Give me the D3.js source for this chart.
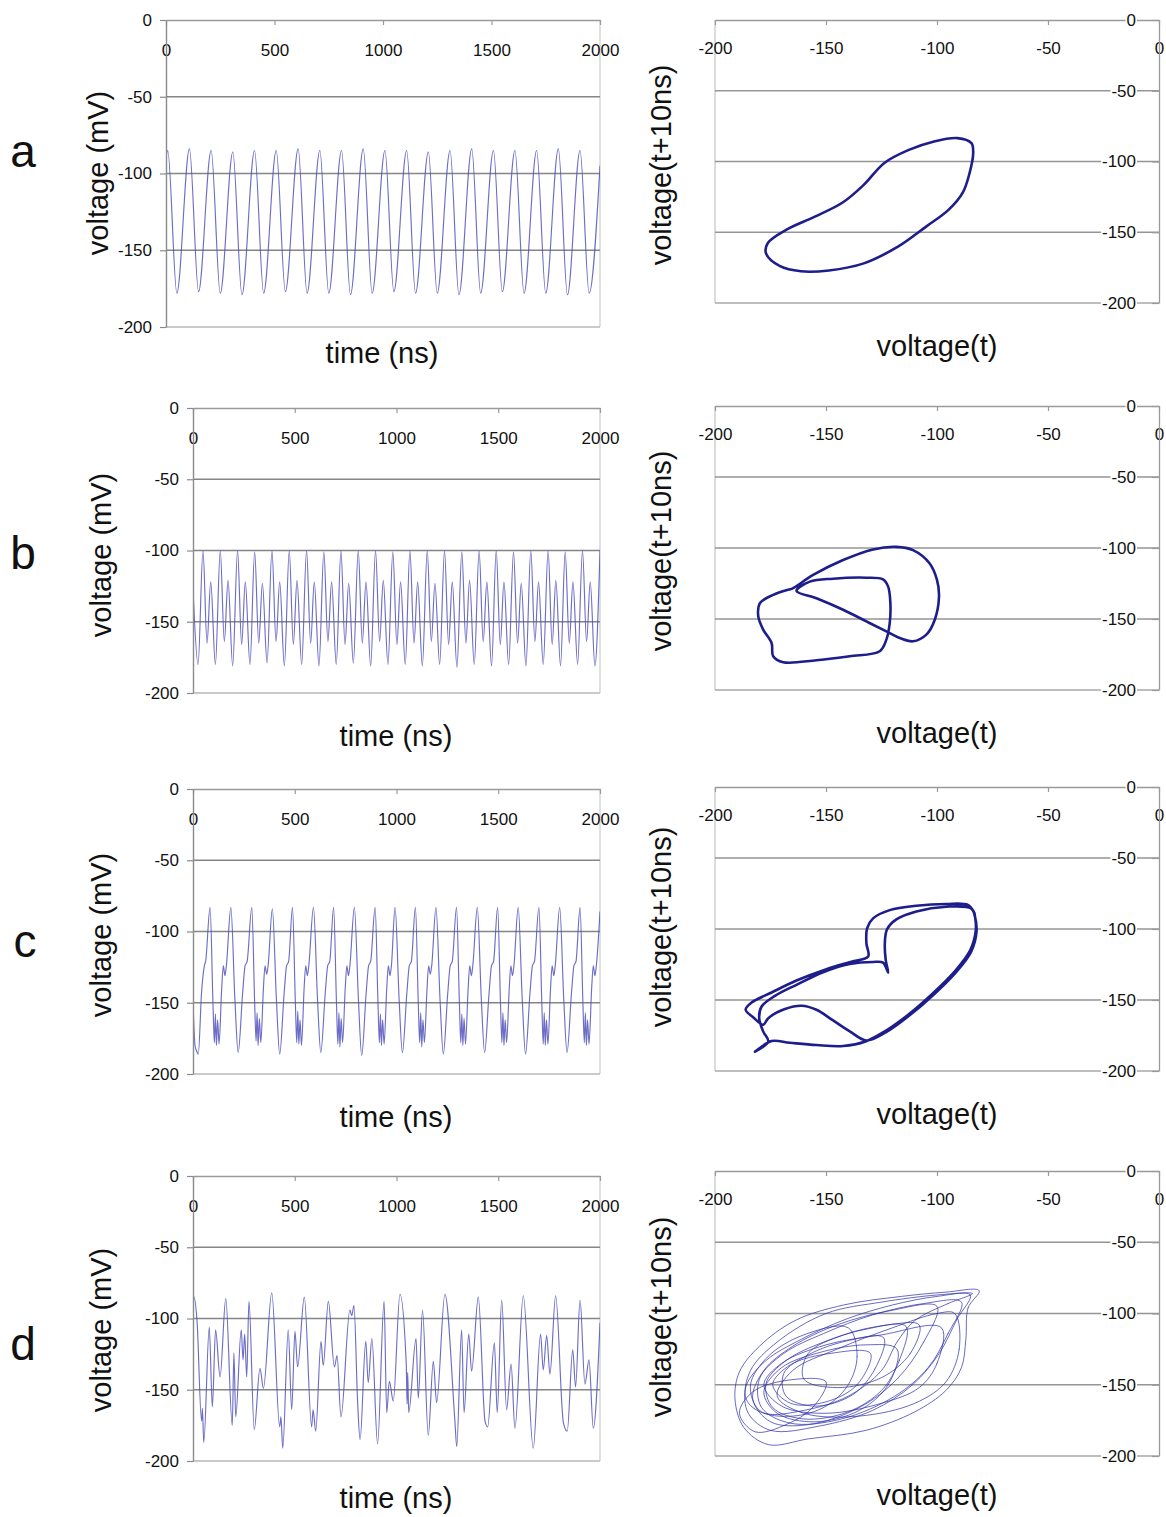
<!DOCTYPE html>
<html>
<head>
<meta charset="utf-8">
<script src="https://cdn.jsdelivr.net/npm/d3@7"></script>
<style>
  body { margin: 0; background: #fff; }
  svg text { font-family: "Liberation Sans", Arial, sans-serif; fill: #111; }
</style>
</head>
<body>
<svg id="fig" width="1166" height="1517"></svg>
<script>
// ---- axis ticks ----
const timeTicks = [0, 500, 1000, 1500, 2000];
const voltTicks = [0, -50, -100, -150, -200];
const mapTicks = [-200, -150, -100, -50, 0];
const gridVolts = [-50, -100, -150];
const panelLetters = ["a", "b", "c", "d"];

// ---- membrane voltage traces: [time (ns), voltage (mV)] at turning points ----
// a: regular single-spike oscillation
const traceA = [
  [0,-90],[8,-85],[50,-178],[108,-84],[150,-177],[208,-85],[250,-178],[308,-86],[350,-179],
  [408,-85],[450,-178],[508,-85],[550,-177],[609,-84],[650,-178],[709,-85],[750,-178],
  [809,-85],[850,-179],[909,-84],[950,-178],[1009,-85],[1050,-177],[1109,-85],[1150,-178],
  [1209,-86],[1250,-178],[1309,-85],[1350,-179],[1409,-84],[1450,-178],[1509,-85],[1550,-177],
  [1608,-85],[1650,-178],[1708,-85],[1750,-178],[1808,-84],[1850,-179],[1908,-85],[1950,-178],
  [2000,-95]
];

// b: two maxima per period (main and secondary)
const traceB = [
  [0,-127],[25,-180],[49,-100],[69,-165],[87,-122],[110,-180],
  [134,-100],[154,-164],[172,-121],[195,-181],[219,-100],[239,-166],[257,-122],[280,-180],
  [303,-101],[323,-165],[341,-123],[364,-179],[388,-100],[408,-164],[426,-122],[449,-181],
  [473,-100],[493,-166],[511,-121],[534,-180],[558,-100],[578,-165],[596,-122],[619,-181],
  [643,-101],[663,-164],[681,-122],[704,-180],[727,-100],[747,-166],[765,-123],[788,-179],
  [812,-100],[832,-165],[850,-122],[873,-181],[897,-100],[917,-164],[935,-121],[958,-180],
  [982,-101],[1002,-166],[1020,-122],[1043,-180],[1066,-100],[1086,-165],[1104,-122],[1127,-181],
  [1151,-100],[1171,-164],[1189,-123],[1212,-180],[1236,-100],[1256,-166],[1274,-122],[1297,-182],
  [1321,-101],[1341,-165],[1359,-121],[1382,-180],[1406,-100],[1426,-164],[1444,-122],[1467,-181],
  [1490,-100],[1510,-166],[1528,-122],[1551,-180],[1575,-101],[1595,-165],[1613,-123],[1636,-181],
  [1660,-100],[1680,-164],[1698,-122],[1721,-180],[1745,-100],[1765,-166],[1783,-121],[1806,-181],
  [1829,-101],[1849,-165],[1867,-122],[1890,-180],[1914,-100],[1934,-164],[1952,-122],[1975,-181],
  [2000,-100]
];

// c: period-two spiking, alternating ragged and deep troughs
const traceC = [
  [0,-150],[10,-180],[18,-184],[26,-186],[42,-143],[56,-124],[62,-121],[84,-83],
  [98,-150],[105,-178],[110,-158],[115,-180],[121,-162],[128,-179],[141,-140],[149,-124],[157,-131],[164,-124],[186,-83],
  [206,-148],[222,-185],[244,-143],[256,-124],[266,-121],[289,-83],
  [303,-150],[310,-177],[315,-157],[320,-180],[326,-161],[333,-178],[346,-140],[354,-124],[362,-130],[369,-124],[390,-84],
  [410,-148],[426,-186],[448,-143],[460,-124],[470,-121],[489,-83],
  [503,-150],[510,-178],[515,-156],[520,-179],[526,-162],[533,-180],[546,-140],[554,-124],[562,-131],[569,-124],[592,-83],
  [612,-148],[628,-185],[650,-143],[662,-124],[672,-121],[691,-83],
  [705,-150],[712,-179],[717,-157],[722,-181],[728,-161],[735,-178],[748,-140],[756,-124],[764,-131],[771,-124],[793,-83],
  [813,-148],[829,-187],[851,-143],[863,-124],[873,-121],[895,-83],
  [909,-150],[916,-178],[921,-158],[926,-180],[932,-162],[939,-179],[952,-140],[960,-124],[968,-131],[975,-124],[993,-83],
  [1013,-148],[1029,-185],[1051,-143],[1063,-124],[1073,-121],[1093,-83],
  [1107,-150],[1114,-178],[1119,-157],[1124,-181],[1130,-162],[1137,-178],[1150,-140],[1158,-124],[1166,-130],[1173,-124],[1194,-83],
  [1214,-148],[1230,-186],[1252,-143],[1264,-124],[1274,-121],[1295,-83],
  [1309,-150],[1316,-178],[1321,-158],[1326,-180],[1332,-161],[1339,-179],[1352,-140],[1360,-124],[1368,-131],[1375,-124],[1397,-83],
  [1417,-148],[1433,-185],[1455,-143],[1467,-124],[1477,-121],[1497,-83],
  [1511,-150],[1518,-178],[1523,-157],[1528,-180],[1534,-162],[1541,-178],[1554,-140],[1562,-124],[1570,-131],[1577,-124],[1598,-83],
  [1618,-148],[1634,-186],[1656,-143],[1668,-124],[1678,-121],[1700,-83],
  [1714,-150],[1721,-179],[1726,-157],[1731,-180],[1737,-162],[1744,-179],[1757,-140],[1765,-124],[1773,-131],[1780,-124],[1802,-83],
  [1822,-148],[1838,-185],[1860,-143],[1872,-124],[1882,-121],[1902,-83],
  [1916,-150],[1923,-178],[1928,-157],[1933,-180],[1939,-162],[1946,-179],[1959,-140],[1967,-124],[1975,-131],[1982,-124],[2000,-86]
];

// d: irregular (chaotic) oscillation
const traceD = [
  [0,-86],[2,-84],[20,-102],[42,-172],[46,-163],[53,-187],[80,-106],[95,-162],[111,-108],[133,-141],[161,-86],
  [193,-175],[201,-124],[210,-169],[237,-108],[246,-129],[254,-111],[264,-141],[275,-88],[301,-178],[329,-135],[346,-149],[387,-82],
  [426,-176],[432,-169],[441,-191],[468,-108],[485,-164],[501,-109],[514,-134],[547,-85],[583,-176],[590,-164],[603,-179],
  [629,-116],[640,-133],[665,-88],[695,-134],[708,-126],[727,-169],[771,-94],[780,-98],[791,-91],[809,-159],[821,-185],
  [849,-116],[861,-145],[879,-114],[907,-188],[939,-88],[952,-166],[965,-144],[984,-158],[1017,-83],
  [1048,-132],[1052,-160],[1055,-138],[1060,-166],[1096,-114],[1107,-156],[1128,-94],[1156,-182],[1181,-130],[1197,-159],[1238,-83],
  [1287,-172],[1296,-190],[1320,-108],[1332,-166],[1355,-111],[1369,-137],[1402,-85],[1435,-172],[1448,-176],[1481,-117],[1495,-166],
  [1517,-87],[1541,-164],[1563,-132],[1582,-177],[1623,-84],[1672,-191],[1708,-111],[1721,-136],[1738,-112],[1754,-139],[1782,-84],
  [1820,-173],[1839,-179],[1866,-122],[1880,-148],[1902,-87],[1926,-146],[1946,-129],[1967,-177],[2000,-103]
];

// ---- delay maps: [voltage(t), voltage(t+10ns)] ----
const orbitA = [
  [-90.8,-83.5],[-84.5,-87],[-83.7,-94],[-85.3,-108],[-88.4,-122],[-94.7,-134],[-104.9,-146],
  [-117.4,-160],[-133,-172],[-148.7,-177],[-161.3,-177.6],[-170.7,-174],[-177,-165],[-176.2,-157.6],
  [-167.6,-148],[-155,-139],[-142.5,-129],[-133,-116.5],[-123.7,-101],[-112.7,-91.8],[-101.7,-86]
];

const orbitB = [
  [-165.5,-128.8],[-155.8,-119.0],[-142.3,-108.5],[-128.8,-101.0],[-118.3,-99.2],[-110.8,-101.5],
  [-103.3,-110.9],[-100.0,-122.5],[-99.1,-134.2],[-101.0,-150.5],[-104.8,-161.0],[-110.8,-165.7],
  [-116.8,-163.4],[-122.8,-158.7],[-131.8,-151.7],[-142.3,-143.5],[-154.3,-135.4],[-163.3,-130.2],
  [-157.3,-123.7],[-146.8,-121.6],[-131.8,-120.9],[-124.3,-122.1],[-122.0,-127.2],[-121.0,-138.9],
  [-121.3,-152.9],[-122.8,-164.5],[-125.8,-172.7],[-139.3,-176.2],[-154.3,-179.0],[-169.3,-180.4],
  [-173.8,-176.2],[-174.5,-166.9],[-178.3,-157.5],[-180.5,-148.2],[-179.8,-138.9],[-173.8,-133.0],
  [-167.5,-129.5]
];

const orbitC = [
  [-83.1,-89.0],[-82.5,-100.7],[-85.0,-114.8],[-92.1,-130.0],[-101.8,-145.2],[-113.0,-160.4],
  [-123.5,-172.1],[-132.2,-179.2],[-142.3,-182.4],[-154.3,-181.7],[-166.3,-180.1],[-174.5,-178.9],
  [-182.0,-186.4],[-176.0,-179.4],[-178.3,-172.1],[-180.1,-162.8],[-179.0,-154.6],[-173.0,-147.1],
  [-163.3,-139.3],[-151.3,-130.4],[-139.3,-124.6],[-128.8,-123.2],[-124.3,-123.7],[-122.0,-130.7],
  [-123.1,-121.8],[-123.5,-110.1],[-122.5,-100.2],[-118.3,-93.2],[-109.3,-87.6],[-95.8,-84.3],
  [-84.6,-85.5],[-82.9,-91.3],[-82.2,-101.9],[-84.6,-115.9],[-91.6,-130.7],[-101.3,-145.9],
  [-112.6,-161.1],[-123.1,-172.8],[-131.8,-178.5],[-139.3,-172.1],[-146.8,-164.4],[-154.3,-156.9],
  [-161.0,-154.1],[-168.5,-156.4],[-176.0,-162.8],[-178.3,-167.4],[-182.8,-162.1],[-186.2,-156.9],
  [-183.5,-151.8],[-174.5,-144.7],[-163.3,-136.3],[-149.8,-128.3],[-137.8,-122.7],[-131.0,-119.4],
  [-131.8,-110.1],[-131.5,-99.5],[-128.8,-92.5],[-121.3,-86.7],[-109.3,-83.6],[-95.8,-82.4],
  [-86.1,-83.1],[-83.1,-89.0]
];

const orbitD = [
  [[-81,-84],[-86,-96],[-87,-118],[-89,-138],[-96,-154],[-110,-169],[-132,-182],[-158,-188],[-176,-192],[-187,-180],[-191,-160],[-189,-141],[-180,-123],[-164,-105],[-142,-94],[-116,-88],[-96,-85]],
  [[-85,-87],[-91,-104],[-99,-128],[-111,-150],[-129,-168],[-153,-179],[-175,-182],[-185,-170],[-186,-151],[-177,-133],[-161,-118],[-141,-104],[-120,-94],[-100,-88]],
  [[-89,-92],[-95,-114],[-104,-138],[-119,-158],[-143,-174],[-166,-177],[-179,-166],[-180,-146],[-169,-128],[-151,-114],[-129,-101],[-106,-93]],
  [[-114,-109],[-117,-133],[-125,-154],[-140,-169],[-160,-174],[-174,-166],[-177,-149],[-168,-133],[-151,-120],[-132,-111]],
  [[-124,-117],[-128,-139],[-138,-157],[-155,-165],[-168,-158],[-169,-142],[-158,-129],[-140,-119]],
  [[-108,-108],[-112,-128],[-125,-145],[-145,-152],[-160,-146],[-158,-128],[-142,-115],[-122,-108]],
  [[-100,-95],[-106,-120],[-118,-146],[-135,-166],[-158,-178],[-175,-176],[-183,-160],[-178,-140],[-165,-123],[-145,-108],[-121,-98]],
  [[-118,-125],[-122,-150],[-135,-168],[-155,-176],[-172,-170],[-178,-155],[-170,-138],[-152,-127],[-132,-122]],
  [[-150,-148],[-156,-166],[-168,-178],[-182,-183],[-189,-170],[-183,-155],[-168,-147]],
  [[-92,-100],[-90,-125],[-96,-148],[-110,-163],[-135,-172],[-160,-170],[-172,-158],[-165,-140],[-145,-125],[-120,-110],[-100,-100]],
  [[-130,-128],[-136,-150],[-150,-162],[-166,-163],[-174,-150],[-166,-136],[-148,-128]],
  [[-84,-86],[-95,-93],[-110,-105],[-118,-120],[-125,-140],[-140,-158],[-160,-168],[-178,-170],[-186,-160],[-184,-140],[-172,-120],[-150,-100],[-125,-92],[-100,-87]],
  [[-140,-110],[-136,-130],[-140,-150],[-150,-165],[-165,-172],[-180,-168],[-184,-150],[-176,-130],[-160,-115]],
  [[-98,-110],[-100,-135],[-108,-152],[-125,-163],[-150,-170],[-170,-165],[-178,-150],[-170,-135],[-150,-122],[-125,-115]]
];

// ---- layout of the four rows ----
const rows = [
  { trace: traceA, orbits: [orbitA], style: "bold", closed: true,
    L: {x0:166, x1:600, y0:20,   y1:327},  R: {x0:715, x1:1159, y0:20,   y1:303},
    letter: [23,167],  vlab: [108,173],  tlab: [382,363],  mlab: [671,165],  hlab: [937,356] },
  { trace: traceB, orbits: [orbitB], style: "bold", closed: true,
    L: {x0:193, x1:600, y0:408,  y1:693},  R: {x0:715, x1:1159, y0:406,  y1:690},
    letter: [23,569],  vlab: [111,555],  tlab: [396,746],  mlab: [671,551],  hlab: [937,743] },
  { trace: traceC, orbits: [orbitC], style: "bold", closed: false,
    L: {x0:193, x1:600, y0:789,  y1:1074}, R: {x0:715, x1:1159, y0:787,  y1:1071},
    letter: [25,957],  vlab: [111,935],  tlab: [396,1127], mlab: [671,927],  hlab: [937,1124] },
  { trace: traceD, orbits: orbitD, style: "thin", closed: true,
    L: {x0:193, x1:600, y0:1176, y1:1461}, R: {x0:715, x1:1159, y0:1171, y1:1456},
    letter: [23,1360], vlab: [111,1330], tlab: [396,1508], mlab: [671,1317], hlab: [937,1505] }
];

const svg = d3.select("#fig");
const TICK_FONT = "17px";
const TITLE_FONT = "29px";
const FONT = "'Liberation Sans', Arial, sans-serif";
const plain = d => String(d);   // keeps the ASCII hyphen as the minus sign

function timePanel(g, box, trace, idx) {
  const x = d3.scaleLinear().domain([0, 2000]).range([box.x0, box.x1]);
  const y = d3.scaleLinear().domain([0, -200]).range([box.y0, box.y1]);

  // frame: far borders light
  g.append("line").attr("x1", box.x1).attr("x2", box.x1).attr("y1", box.y0).attr("y2", box.y1)
    .attr("stroke", "#cfcfcf").attr("stroke-width", 1.3);
  g.append("line").attr("x1", box.x0).attr("x2", box.x1).attr("y1", box.y1).attr("y2", box.y1)
    .attr("stroke", "#b8b8b8").attr("stroke-width", 1.3);

  // horizontal gridlines
  g.selectAll("line.grid").data(gridVolts).join("line").attr("class", "grid")
    .attr("x1", box.x0).attr("x2", box.x1)
    .attr("y1", d => y(d)).attr("y2", d => y(d))
    .attr("stroke", "#858585").attr("stroke-width", 1.3);

  // voltage trace
  const clipId = "clipL" + idx;
  g.append("clipPath").attr("id", clipId).append("rect")
    .attr("x", box.x0).attr("y", box.y0).attr("width", box.x1 - box.x0).attr("height", box.y1 - box.y0);
  const line = d3.line().x(d => x(d[0])).y(d => y(d[1])).curve(d3.curveMonotoneX);
  g.append("path").datum(trace).attr("clip-path", `url(#${clipId})`)
    .attr("d", line).attr("fill", "none")
    .attr("stroke", "#5454bd").attr("stroke-opacity", 0.85).attr("stroke-width", 1.15)
    .attr("stroke-linejoin", "round");

  // time axis along the top edge
  const ax = g.append("g").attr("transform", `translate(0,${box.y0})`)
    .call(d3.axisBottom(x).tickValues(timeTicks).tickSizeInner(5).tickSizeOuter(0).tickFormat(plain));
  ax.select(".domain").attr("stroke", "#9a9a9a").attr("stroke-width", 1.3);
  ax.selectAll(".tick line").attr("stroke", "#9a9a9a").attr("stroke-width", 1.2);
  ax.selectAll(".tick text").attr("y", 30).attr("dy", "0.35em")
    .style("font-size", TICK_FONT).style("font-family", FONT).attr("fill", "#111");

  // voltage axis on the left
  const ay = g.append("g").attr("transform", `translate(${box.x0},0)`)
    .call(d3.axisLeft(y).tickValues(voltTicks).tickSizeInner(6).tickSizeOuter(0).tickPadding(8).tickFormat(plain));
  ay.select(".domain").attr("stroke", "#8a8a8a").attr("stroke-width", 1.4);
  ay.selectAll(".tick line").attr("stroke", "#8a8a8a").attr("stroke-width", 1.2);
  ay.selectAll(".tick text").style("font-size", TICK_FONT)
    .style("font-family", FONT).attr("fill", "#111");
}

function mapPanel(g, box, orbits, style, closed, idx) {
  const x = d3.scaleLinear().domain([-200, 0]).range([box.x0, box.x1]);
  const y = d3.scaleLinear().domain([0, -200]).range([box.y0, box.y1]);

  g.append("line").attr("x1", box.x0).attr("x2", box.x0).attr("y1", box.y0).attr("y2", box.y1)
    .attr("stroke", "#c8c8c8").attr("stroke-width", 1.3);
  g.append("line").attr("x1", box.x0).attr("x2", box.x1).attr("y1", box.y1).attr("y2", box.y1)
    .attr("stroke", "#a8a8a8").attr("stroke-width", 1.3);
  g.selectAll("line.grid").data(gridVolts).join("line").attr("class", "grid")
    .attr("x1", box.x0).attr("x2", box.x1)
    .attr("y1", d => y(d)).attr("y2", d => y(d))
    .attr("stroke", "#959595").attr("stroke-width", 1.3);

  const clipId = "clipR" + idx;
  g.append("clipPath").attr("id", clipId).append("rect")
    .attr("x", box.x0).attr("y", box.y0).attr("width", box.x1 - box.x0).attr("height", box.y1 - box.y0);
  const curve = closed ? d3.curveCatmullRomClosed.alpha(0.5) : d3.curveCatmullRom.alpha(0.5);
  const line = d3.line().x(d => x(d[0])).y(d => y(d[1])).curve(curve);
  const og = g.append("g").attr("clip-path", `url(#${clipId})`);
  og.selectAll("path").data(orbits).join("path")
    .attr("d", line).attr("fill", "none")
    .attr("stroke", style === "bold" ? "#1d1d8c" : "#3030a8")
    .attr("stroke-width", style === "bold" ? 2.6 : 0.9)
    .attr("stroke-opacity", style === "bold" ? 1 : 0.8)
    .attr("stroke-linejoin", "round").attr("stroke-linecap", "round");

  // voltage(t) axis along the top
  const ax = g.append("g").attr("transform", `translate(0,${box.y0})`)
    .call(d3.axisBottom(x).tickValues(mapTicks).tickSizeInner(5).tickSizeOuter(0).tickFormat(plain));
  ax.select(".domain").attr("stroke", "#9a9a9a").attr("stroke-width", 1.3);
  ax.selectAll(".tick line").attr("stroke", "#9a9a9a").attr("stroke-width", 1.2);
  ax.selectAll(".tick text").attr("y", 28).attr("dy", "0.35em")
    .style("font-size", TICK_FONT).style("font-family", FONT).attr("fill", "#111");

  // voltage(t+10ns) axis on the right edge, labels inside on white
  const ay = g.append("g").attr("transform", `translate(${box.x1},0)`)
    .call(d3.axisLeft(y).tickValues(voltTicks).tickSizeInner(7).tickSizeOuter(0).tickPadding(16).tickFormat(plain));
  ay.select(".domain").attr("stroke", "#9a9a9a").attr("stroke-width", 1.3);
  ay.selectAll(".tick line").attr("stroke", "#9a9a9a").attr("stroke-width", 1.2);
  ay.selectAll(".tick text").style("font-size", TICK_FONT)
    .style("font-family", FONT).attr("fill", "#111");
  ay.selectAll(".tick").each(function () {
    const t = d3.select(this).select("text");
    const bb = t.node().getBBox();
    d3.select(this).insert("rect", "text")
      .attr("x", bb.x - 1).attr("y", bb.y + 1).attr("width", bb.width + 2).attr("height", bb.height - 2)
      .attr("fill", "#fff");
  });
}

rows.forEach((r, i) => {
  const g = svg.append("g").attr("class", "row-" + panelLetters[i]);
  timePanel(g.append("g"), r.L, r.trace, i);
  mapPanel(g.append("g"), r.R, r.orbits, r.style, r.closed, i);

  g.append("text").attr("x", r.letter[0]).attr("y", r.letter[1])
    .attr("text-anchor", "middle").style("font-size", "46px").text(panelLetters[i]);

  g.append("text").attr("transform", `translate(${r.vlab[0]},${r.vlab[1]}) rotate(-90)`)
    .attr("text-anchor", "middle").style("font-size", TITLE_FONT).text("voltage (mV)");
  g.append("text").attr("x", r.tlab[0]).attr("y", r.tlab[1])
    .attr("text-anchor", "middle").style("font-size", TITLE_FONT).text("time (ns)");
  g.append("text").attr("transform", `translate(${r.mlab[0]},${r.mlab[1]}) rotate(-90)`)
    .attr("text-anchor", "middle").style("font-size", TITLE_FONT).text("voltage(t+10ns)");
  g.append("text").attr("x", r.hlab[0]).attr("y", r.hlab[1])
    .attr("text-anchor", "middle").style("font-size", TITLE_FONT).text("voltage(t)");
});
</script>
</body>
</html>
